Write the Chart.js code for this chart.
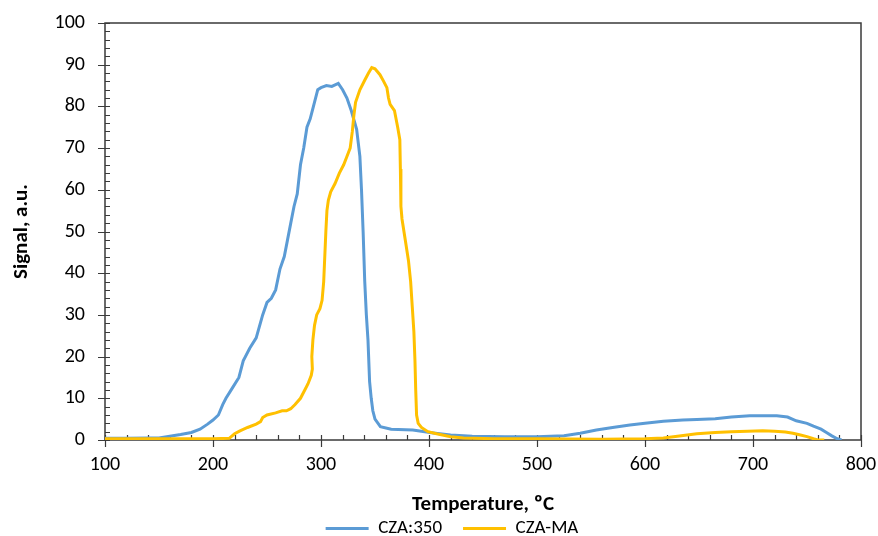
<!DOCTYPE html>
<html>
<head>
<meta charset="utf-8">
<script src="https://cdn.jsdelivr.net/npm/chart.js@4/dist/chart.umd.min.js"></script>
<style>
  html, body { margin: 0; padding: 0; background: #ffffff; }
  #wrap { width: 878px; height: 536px; position: relative; }
</style>
</head>
<body>
<div id="wrap"><canvas id="c" width="878" height="536"></canvas></div>
<script>
// ---- data ----
const seriesNames = ['CZA:350', 'CZA-MA'];
const xTicks = [100, 200, 300, 400, 500, 600, 700, 800];
const yTicks = [0, 10, 20, 30, 40, 50, 60, 70, 80, 90, 100];

const czaTemp = [100, 120, 140, 150, 160, 170, 180, 188, 195, 200, 205, 209, 212, 218, 224, 228, 234, 240, 246, 250, 254, 258, 262, 266, 269, 272, 275, 278, 281, 284, 287, 290, 293, 297, 300, 305, 310, 316, 320, 324, 328, 333, 336, 337.5, 339, 340.5, 342, 343.5, 345, 346.5, 348, 350, 355, 365, 385, 404, 420, 440, 470, 500, 525, 540, 555, 570, 586, 600, 617, 635, 648, 665, 680, 697, 710, 722, 732, 740, 750, 756, 763, 768, 773, 778, 782];
const czaSignal = [0.4, 0.4, 0.5, 0.5, 0.9, 1.3, 1.8, 2.6, 3.8, 4.8, 6.0, 8.5, 10, 12.5, 15, 19, 22, 24.5, 30, 33, 34, 36, 41, 44, 48, 52, 56, 59, 66, 70, 75, 77, 80, 84, 84.5, 85, 84.8, 85.5, 84, 82, 79, 74.5, 68, 60, 50, 38, 30, 24, 14, 10, 7, 5, 3.2, 2.6, 2.4, 1.7, 1.2, 0.9, 0.8, 0.8, 1.0, 1.6, 2.4, 3.0, 3.6, 4.0, 4.5, 4.8, 4.9, 5.1, 5.5, 5.8, 5.8, 5.8, 5.5, 4.6, 4.0, 3.3, 2.6, 1.8, 1.0, 0.3, 0];

const maTemp = [100, 150, 200, 215, 220, 225, 232, 240, 244, 246, 250, 258, 264, 268, 272, 276, 281, 285, 288, 291, 292, 291.5, 292.5, 294, 296, 299, 301, 302.5, 303.5, 304.5, 305.5, 306.8, 309, 313, 317, 321, 324, 327, 329, 330.5, 332, 336, 340.7, 344, 347, 350, 354.6, 358, 361, 362.5, 364, 368, 371, 373, 373.5, 374, 375, 378, 381, 383, 384.5, 386, 387, 387.7, 388.5, 390, 393, 399, 407, 420, 432, 460, 500, 560, 600, 617, 630, 648, 665, 680, 695, 709, 720, 730, 737, 744, 750, 756, 760, 766];
const maSignal = [0.3, 0.3, 0.3, 0.4, 1.5, 2.2, 3.0, 3.8, 4.4, 5.4, 6.0, 6.5, 7.0, 7.0, 7.5, 8.5, 10, 12, 13.5, 15.5, 17, 20, 24, 27.5, 30, 31.5, 33.5, 38, 44, 50, 55, 57.5, 59.5, 61.5, 64, 66, 68, 70, 74, 78, 81, 84, 86.4, 88, 89.3, 89, 87.6, 86, 84.5, 82, 80.5, 79, 75, 72, 65, 56, 53, 48, 43, 38, 32, 26, 19, 12, 6, 4, 3.0, 2.0, 1.5, 0.8, 0.5, 0.3, 0.3, 0.2, 0.3, 0.5, 0.9, 1.5, 1.8, 2.0, 2.1, 2.2, 2.1, 1.9, 1.6, 1.2, 0.8, 0.3, 0, 0];

const toPoints = (xs, ys) => xs.map((x, i) => ({ x: x, y: ys[i] }));

const FONT = "Carlito, Lato, 'Liberation Sans', sans-serif";
const TEXT = '#000000';
const AXIS = '#3a3a3a';
const CLEAR = 'rgba(0,0,0,0)';

const frameTicks = {
  id: 'frameTicks',
  beforeDatasetsDraw(chart) {
    const { ctx, chartArea: a, scales: { x, y } } = chart;
    ctx.save();
    ctx.strokeStyle = AXIS;
    ctx.lineWidth = 1.5;
    ctx.strokeRect(a.left, a.top, a.right - a.left, a.bottom - a.top);
    ctx.lineWidth = 1.2;
    ctx.beginPath();
    const yStep = yTicks[1] - yTicks[0];
    for (let v = yTicks[0]; v <= yTicks[yTicks.length - 1] + 1e-9; v += yStep / 5) {
      const py = Math.round(y.getPixelForValue(v)) + 0.5;
      const major = Math.abs(v / yStep - Math.round(v / yStep)) < 1e-6;
      ctx.moveTo(a.left - (major ? 7 : 0), py);
      ctx.lineTo(a.left + 5, py);
    }
    const xStep = xTicks[1] - xTicks[0];
    for (let v = xTicks[0]; v <= xTicks[xTicks.length - 1] + 1e-9; v += xStep / 5) {
      const px = Math.round(x.getPixelForValue(v)) + 0.5;
      const major = Math.abs(v / xStep - Math.round(v / xStep)) < 1e-6;
      ctx.moveTo(px, a.bottom + (major ? 7 : 0));
      ctx.lineTo(px, a.bottom - 5);
    }
    ctx.stroke();
    ctx.restore();
  }
};

new Chart(document.getElementById('c'), {
  type: 'line',
  data: {
    datasets: [
      {
        label: seriesNames[0],
        data: toPoints(czaTemp, czaSignal),
        borderColor: '#5B9BD5',
        backgroundColor: '#5B9BD5',
        borderWidth: 3,
        pointRadius: 0,
        tension: 0,
        order: 1
      },
      {
        label: seriesNames[1],
        data: toPoints(maTemp, maSignal),
        borderColor: '#FFC000',
        backgroundColor: '#FFC000',
        borderWidth: 3,
        pointRadius: 0,
        tension: 0,
        order: 0
      }
    ]
  },
  options: {
    responsive: false,
    animation: false,
    devicePixelRatio: 1,
    layout: { padding: { left: 43, right: 17, top: 23, bottom: -12 } },
    plugins: {
      tooltip: { enabled: false },
      legend: {
        display: true,
        position: 'bottom',
        labels: {
          font: { family: FONT, size: 19 },
          color: TEXT,
          boxWidth: 43,
          boxHeight: 3,
          padding: 21,
          sort: (a, b) => a.datasetIndex - b.datasetIndex,
          generateLabels(chart) {
            return chart.data.datasets.map((ds, i) => ({
              text: ds.label,
              fillStyle: ds.borderColor,
              strokeStyle: ds.borderColor,
              lineWidth: 0,
              datasetIndex: i,
              hidden: false,
              fontColor: TEXT
            }));
          }
        }
      }
    },
    scales: {
      x: {
        type: 'linear',
        min: xTicks[0],
        max: xTicks[xTicks.length - 1],
        afterBuildTicks(scale) { scale.ticks = xTicks.map(v => ({ value: v })); },
        afterFit(scale) { scale.height = 58; },
        grid: { display: true, drawOnChartArea: false, drawTicks: true, tickLength: 12.5, tickColor: CLEAR, color: CLEAR },
        border: { display: false },
        ticks: { font: { family: FONT, size: 20 }, color: TEXT, padding: 0, maxRotation: 0 },
        title: {
          display: true,
          text: 'Temperature, ºC',
          font: { family: FONT, size: 21, weight: 'bold' },
          color: TEXT,
          padding: { top: 0, bottom: -19.6 }
        }
      },
      y: {
        type: 'linear',
        min: yTicks[0],
        max: yTicks[yTicks.length - 1],
        afterBuildTicks(scale) { scale.ticks = yTicks.map(v => ({ value: v })); },
        afterFit(scale) { scale.width = 62; },
        grid: { display: true, drawOnChartArea: false, drawTicks: true, tickLength: 20, tickColor: CLEAR, color: CLEAR },
        border: { display: false },
        ticks: { font: { family: FONT, size: 20 }, color: TEXT, padding: 0 },
        title: {
          display: true,
          text: 'Signal, a.u.',
          font: { family: FONT, size: 21, weight: 'bold' },
          color: TEXT,
          padding: { top: -33.6, bottom: 0 }
        }
      }
    }
  },
  plugins: [frameTicks]
});
</script>
</body>
</html>
